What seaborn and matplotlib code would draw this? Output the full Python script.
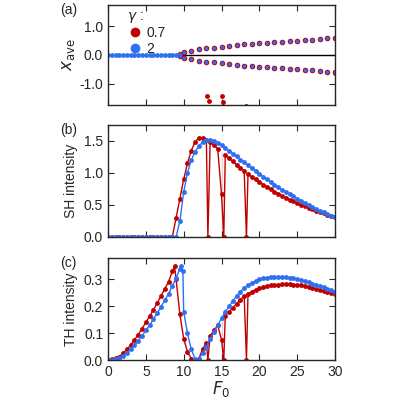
import matplotlib
matplotlib.use("Agg")
import matplotlib.pyplot as plt
import numpy as np
import pandas as pd
import seaborn as sns

sns.set_style("ticks")
plt.rcParams['font.family'] = ['Liberation Sans', 'DejaVu Sans']
plt.rcParams['font.size'] = 10

RED = '#c00000'
BLUE = '#2f6ff2'

# common F0 grid
F = [0, 0.5, 1, 1.5, 2, 2.5, 3, 3.5, 4, 4.5, 5, 5.5, 6, 6.5, 7, 7.5, 8, 8.5, 9, 9.5,
     10, 10.5, 11, 11.5, 12, 12.5, 13, 13.5, 14, 14.5, 15, 15.5, 16, 16.5, 17, 17.5,
     18, 18.5, 19, 19.5, 20, 20.5, 21, 21.5, 22, 22.5, 23, 23.5, 24, 24.5, 25, 25.5,
     26, 26.5, 27, 27.5, 28, 28.5, 29, 29.5, 30]

sh_red = [0]*18 + [0.3, 0.6, 0.9, 1.15, 1.35, 1.48, 1.55, 1.55, 1.52, 1.48, 1.43, 1.38,
                   1.33, 1.28, 1.23, 1.18, 1.13, 1.08, 1.03, 0.98, 0.94, 0.9, 0.86, 0.82,
                   0.78, 0.745, 0.71, 0.675, 0.64, 0.61, 0.58, 0.555, 0.53, 0.505, 0.48,
                   0.455, 0.43, 0.41, 0.39, 0.37, 0.35, 0.335, 0.32]
sh_blue = [0]*19 + [0.25, 0.7, 1.0, 1.2, 1.33, 1.42, 1.48, 1.51, 1.52, 1.5, 1.47, 1.43,
                    1.39, 1.35, 1.3, 1.26, 1.21, 1.17, 1.12, 1.08, 1.03, 0.99, 0.945, 0.9,
                    0.86, 0.82, 0.78, 0.74, 0.705, 0.67, 0.635, 0.6, 0.565, 0.53, 0.5,
                    0.47, 0.44, 0.41, 0.385, 0.36, 0.335, 0.31]
th_red = [0, 0.002, 0.006, 0.013, 0.025, 0.04, 0.056, 0.075, 0.095, 0.117, 0.14, 0.163,
          0.187, 0.212, 0.238, 0.265, 0.292, 0.33, 0.3, 0.17, 0.08, 0.03, 0.005, 0.0,
          0.005, 0.04, 0.065, 0.09, 0.11, 0.13, 0.15, 0.165, 0.18, 0.195, 0.21, 0.225,
          0.237, 0.245, 0.255, 0.262, 0.268, 0.272, 0.275, 0.278, 0.28, 0.281, 0.282,
          0.282, 0.282, 0.281, 0.28, 0.278, 0.275, 0.272, 0.268, 0.264, 0.26, 0.256,
          0.252, 0.248, 0.245]
th_blue = [0, 0.001, 0.003, 0.008, 0.016, 0.027, 0.04, 0.055, 0.072, 0.09, 0.11, 0.13,
           0.152, 0.175, 0.198, 0.222, 0.247, 0.275, 0.305, 0.34, 0.18, 0.1, 0.04, 0.005,
           0.005, 0.025, 0.05, 0.08, 0.105, 0.13, 0.155, 0.18, 0.2, 0.22, 0.238, 0.255,
           0.268, 0.278, 0.287, 0.295, 0.3, 0.304, 0.307, 0.309, 0.31, 0.31, 0.31, 0.309,
           0.307, 0.304, 0.3, 0.297, 0.293, 0.289, 0.285, 0.281, 0.276, 0.271, 0.266,
           0.261, 0.255]
# extra points of the red curves (peak and dips)
F_red_extra = [8.8, 13.2, 15.0, 15.3, 18.3]
sh_red_extra = [None, 0.0, 0.0, 0.0, 0.0]
th_red_extra = [0.35, 0.0, 0.0, 0.0, 0.0]
F_blue_extra = [9.7, 9.9]
th_blue_extra = [0.35, 0.33]

# x_ave branches
F_br = [9, 9.5, 10, 11, 12, 13, 14, 15, 16, 17, 18, 19, 20, 21, 22, 23, 24, 25, 26,
        27, 28, 29, 30]
x_br = [0, 0.05, 0.1, 0.15, 0.2, 0.23, 0.26, 0.29, 0.32, 0.34, 0.37, 0.39, 0.41, 0.43,
        0.45, 0.47, 0.49, 0.5, 0.52, 0.54, 0.56, 0.58, 0.6]
F_out = [13.1, 13.3, 15.0, 15.2, 18.3, 30]
x_out = [-1.45, -1.62, -1.45, -1.65, -1.78, -0.63]

def frame(F0, y, F1=(), y1=()):
    d = pd.DataFrame({'F': list(F0) + list(F1), 'y': list(y) + list(y1)})
    return d.dropna().sort_values('F')

fig = plt.figure(figsize=(4, 4), dpi=100)
axa = fig.add_axes([0.27, 0.7375, 0.5675, 0.25])
axb = fig.add_axes([0.27, 0.4075, 0.5675, 0.28])
axc = fig.add_axes([0.27, 0.10, 0.5675, 0.255])

ms = 3.5
# (a)
axa.axhline(0, color='black', lw=1)
for col, lab in [(RED, '0.7'), (BLUE, '2')]:
    axa.plot([], [], 'o', color=col, ms=7, mew=0, label=lab)
Fa = F_br[1:]
xa = x_br[1:]
axa.plot(Fa + Fa, xa + [-v for v in xa], 'o', color=RED, ms=ms + 0.5, mew=0)
axa.plot(F_out, x_out, 'o', color=RED, ms=ms, mew=0)
axa.plot(F[:19], [0]*19, 'o', color=BLUE, ms=ms, mew=0)
axa.plot(Fa + Fa, xa + [-v for v in xa], 'o', color=BLUE, ms=ms - 0.8, mew=0)
axa.set_ylim(-1.75, 1.75)
axa.set_yticks([-1.0, 0.0, 1.0])
axa.set_yticklabels(['-1.0', '0.0', '1.0'])
axa.set_ylabel(r'$x_{\rm ave}$', fontsize=12, labelpad=2)
leg = axa.legend(title=r'$\gamma$ :', loc='upper left', bbox_to_anchor=(0.04, 1.06),
                 frameon=False, handletextpad=0.2, labelspacing=0.1, borderpad=0.2,
                 handlelength=1.2)
leg._legend_box.align = 'left'

# (b)
sns.lineplot(data=frame(F, sh_red, F_red_extra, sh_red_extra), x='F', y='y', ax=axb,
             color=RED, marker='o', markersize=ms, markeredgewidth=0, lw=1)
sns.lineplot(data=frame(F, sh_blue), x='F', y='y', ax=axb,
             color=BLUE, marker='o', markersize=ms, markeredgewidth=0, lw=1)
axb.set_ylim(0, 1.75)
axb.set_yticks([0, 0.5, 1.0, 1.5])
axb.set_yticklabels(['0.0', '0.5', '1.0', '1.5'])
axb.set_ylabel('SH intensity')

# (c)
sns.lineplot(data=frame(F, th_red, F_red_extra, th_red_extra), x='F', y='y', ax=axc,
             color=RED, marker='o', markersize=ms, markeredgewidth=0, lw=1)
sns.lineplot(data=frame(F, th_blue, F_blue_extra, th_blue_extra), x='F', y='y', ax=axc,
             color=BLUE, marker='o', markersize=ms, markeredgewidth=0, lw=1)
axc.set_ylim(0, 0.38)
axc.set_yticks([0, 0.1, 0.2, 0.3])
axc.set_yticklabels(['0.0', '0.1', '0.2', '0.3'])
axc.set_ylabel('TH intensity')
axc.set_xlabel(r'$F_0$', fontsize=12, labelpad=0)

for ax, tag in [(axa, '(a)'), (axb, '(b)'), (axc, '(c)')]:
    ax.set_xlim(0, 30)
    ax.set_xticks([0, 5, 10, 15, 20, 25, 30])
    if ax is not axc:
        ax.set_xticklabels([])
        ax.set_xlabel('')
    ax.tick_params(direction='in', top=True, right=True, length=4, labelsize=10)
    for s in ax.spines.values():
        s.set_linewidth(1)
    ax.text(-0.21, 1.02, tag, transform=ax.transAxes, ha='left', va='top')

fig.savefig('out.png', dpi=100)
